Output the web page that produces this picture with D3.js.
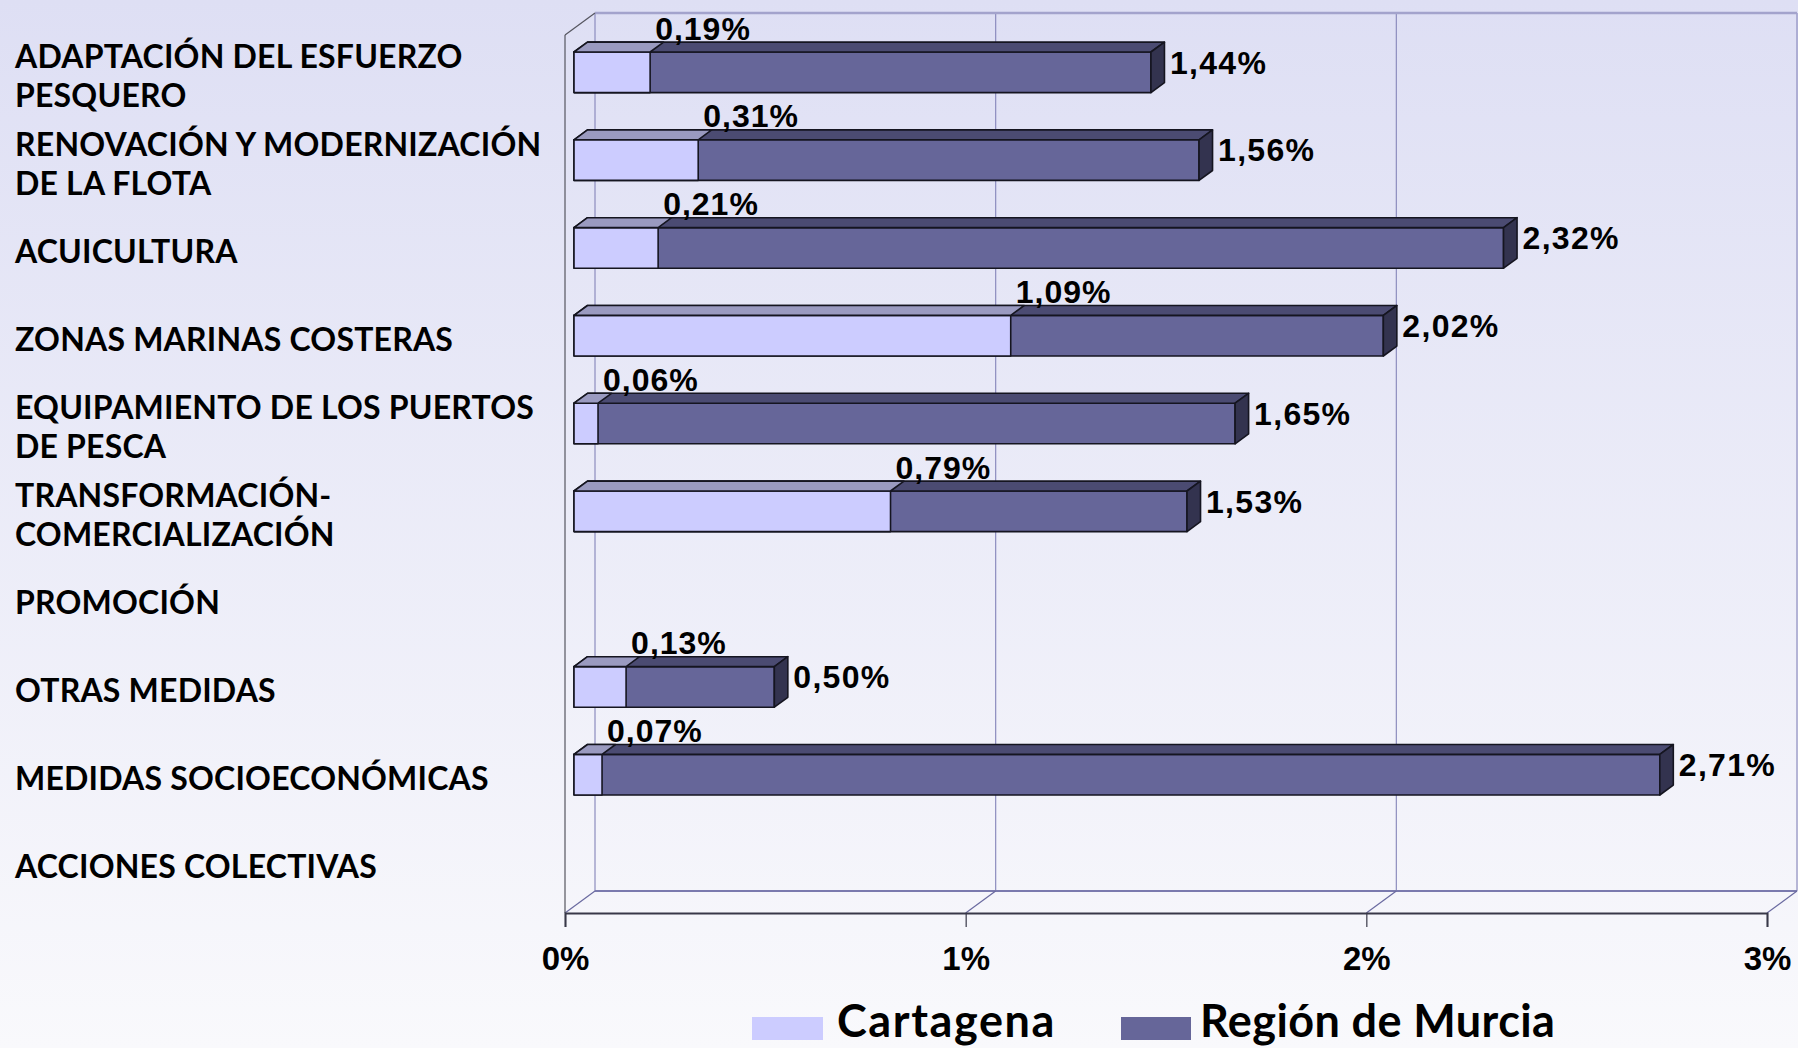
<!DOCTYPE html>
<html>
<head>
<meta charset="utf-8">
<script src="https://cdn.jsdelivr.net/npm/d3@7"></script>
<style>
  html, body { margin: 0; padding: 0; background: #f4f4fa; }
  svg { display: block; }
</style>
</head>
<body>
<svg id="chart" width="1798" height="1048"></svg>
<script>
// ---------- DATA ----------
const categories = [
  "ADAPTACIÓN DEL ESFUERZO PESQUERO",
  "RENOVACIÓN Y MODERNIZACIÓN DE LA FLOTA",
  "ACUICULTURA",
  "ZONAS MARINAS COSTERAS",
  "EQUIPAMIENTO DE LOS PUERTOS DE PESCA",
  "TRANSFORMACIÓN-COMERCIALIZACIÓN",
  "PROMOCIÓN",
  "OTRAS MEDIDAS",
  "MEDIDAS SOCIOECONÓMICAS",
  "ACCIONES COLECTIVAS"
];
const categoryLines = [
  ["ADAPTACIÓN DEL ESFUERZO", "PESQUERO"],
  ["RENOVACIÓN Y MODERNIZACIÓN", "DE LA FLOTA"],
  ["ACUICULTURA"],
  ["ZONAS MARINAS COSTERAS"],
  ["EQUIPAMIENTO DE LOS PUERTOS", "DE PESCA"],
  ["TRANSFORMACIÓN-", "COMERCIALIZACIÓN"],
  ["PROMOCIÓN"],
  ["OTRAS MEDIDAS"],
  ["MEDIDAS SOCIOECONÓMICAS"],
  ["ACCIONES COLECTIVAS"]
];
const cartagena = [0.19, 0.31, 0.21, 1.09, 0.06, 0.79, null, 0.13, 0.07, null];
const murcia    = [1.44, 1.56, 2.32, 2.02, 1.65, 1.53, null, 0.50, 2.71, null];
const seriesNames = ["Cartagena", "Región de Murcia"];
const tickValues = [0, 1, 2, 3];
const tickLabels = ["0%", "1%", "2%", "3%"];

// ---------- LAYOUT ----------
const W = 1798, H = 1048;
const svg = d3.select("#chart");
const catFont = "'Lato', 'DejaVu Sans', sans-serif";
const numFont = "'Liberation Sans', Arial, sans-serif";

const defs = svg.append("defs");
const grad = defs.append("linearGradient").attr("id", "bg").attr("x1", 0).attr("y1", 0).attr("x2", 0).attr("y2", 1);
grad.append("stop").attr("offset", "0%").attr("stop-color", "#dedff4");
grad.append("stop").attr("offset", "100%").attr("stop-color", "#f9f9fc");
svg.append("rect").attr("width", W).attr("height", H).attr("fill", "url(#bg)");

const plotTop = 35, plotBottom = 913;
const depthX = 30, depthY = -22;
const d0 = 0.3, d1 = 0.75;

const x = d3.scaleLinear().domain([0, 3]).range([565, 1767]);
const yBand = d3.scaleBand().domain(categories).range([plotTop, plotBottom])
  .paddingInner(0.5376).paddingOuter(0.2688);
const yCat = d3.scaleBand().domain(categories).range([plotTop, plotBottom]);

const P = (v, yy, d) => [x(v) + depthX * d, yy + depthY * d];
const pts = arr => arr.map(p => p.join(",")).join(" ");

// ---------- WALLS / GRID ----------
const grid = svg.append("g");
grid.selectAll("line.g").data(tickValues).join("line")
  .attr("x1", d => P(d, plotTop, 1)[0]).attr("y1", d => P(d, plotTop, 1)[1])
  .attr("x2", d => P(d, plotBottom, 1)[0]).attr("y2", d => P(d, plotBottom, 1)[1])
  .attr("stroke", "#8c8cbe").attr("stroke-width", 1.2);
grid.append("line")
  .attr("x1", P(0, plotTop, 1)[0]).attr("y1", P(0, plotTop, 1)[1])
  .attr("x2", P(3, plotTop, 1)[0]).attr("y2", P(3, plotTop, 1)[1])
  .attr("stroke", "#a3a3cc").attr("stroke-width", 2.5);
grid.append("line")
  .attr("x1", P(0, plotBottom, 1)[0]).attr("y1", P(0, plotBottom, 1)[1])
  .attr("x2", P(3, plotBottom, 1)[0]).attr("y2", P(3, plotBottom, 1)[1])
  .attr("stroke", "#7a7aae").attr("stroke-width", 2);
grid.selectAll("line.fd").data(tickValues).join("line")
  .attr("x1", d => P(d, plotBottom, 0)[0]).attr("y1", d => P(d, plotBottom, 0)[1])
  .attr("x2", d => P(d, plotBottom, 1)[0]).attr("y2", d => P(d, plotBottom, 1)[1])
  .attr("stroke", "#6a6aa0").attr("stroke-width", 1.2);
grid.append("line")
  .attr("x1", P(0, plotTop, 0)[0]).attr("y1", P(0, plotTop, 0)[1])
  .attr("x2", P(0, plotBottom, 0)[0]).attr("y2", P(0, plotBottom, 0)[1])
  .attr("stroke", "#55555f").attr("stroke-width", 1.2);
grid.append("line")
  .attr("x1", P(0, plotTop, 0)[0]).attr("y1", P(0, plotTop, 0)[1])
  .attr("x2", P(0, plotTop, 1)[0]).attr("y2", P(0, plotTop, 1)[1])
  .attr("stroke", "#55555f").attr("stroke-width", 1.2);

// ---------- AXIS ----------
const axis = d3.axisBottom(x).tickValues(tickValues)
  .tickFormat((d, i) => tickLabels[i]).tickSize(14).tickPadding(20);
const axG = svg.append("g").attr("transform", `translate(0,${plotBottom})`).call(axis);
axG.select(".domain").attr("stroke", "#383848").attr("stroke-width", 2);
axG.selectAll(".tick line").attr("stroke", "#383848").attr("stroke-width", 1.2);
axG.selectAll(".tick text").attr("font-family", numFont).attr("font-weight", "bold")
  .attr("font-size", 33).attr("fill", "#000");

// ---------- BARS ----------
const colors = {
  cart: { front: "#ccccff", top: "#9a9ac0", end: "#7d7da6" },
  mur:  { front: "#666699", top: "#4b4b72", end: "#33334f" }
};
const bars = svg.append("g");

function drawBox(g, v0, v1, yTop, h, c, withEnd) {
  const front = [P(v0, yTop, d0), P(v1, yTop, d0), P(v1, yTop + h, d0), P(v0, yTop + h, d0)];
  const top = [P(v0, yTop, d0), P(v1, yTop, d0), P(v1, yTop, d1), P(v0, yTop, d1)];
  const end = [P(v1, yTop, d0), P(v1, yTop, d1), P(v1, yTop + h, d1), P(v1, yTop + h, d0)];
  const add = (poly, fill) => g.append("polygon").attr("points", pts(poly)).attr("fill", fill)
    .attr("stroke", "#151520").attr("stroke-width", 1.6).attr("stroke-linejoin", "round");
  add(front, c.front);
  add(top, c.top);
  if (withEnd) add(end, c.end);
}

categories.forEach((cat, i) => {
  const m = murcia[i], c = cartagena[i];
  if (m == null) return;
  const yTop = yBand(cat), h = yBand.bandwidth();
  const g = bars.append("g");
  drawBox(g, 0, m, yTop, h, colors.mur, true);
  drawBox(g, 0, c, yTop, h, colors.cart, false);
  const fTop = P(0, yTop, d0)[1];
  g.append("text")
    .attr("x", P(c, yTop, d0)[0] + 5).attr("y", fTop - 12.5)
    .attr("font-family", numFont).attr("font-weight", "bold").attr("font-size", 32)
    .attr("letter-spacing", 1).attr("fill", "#000")
    .text(c.toFixed(2).replace(".", ",") + "%");
  g.append("text")
    .attr("x", P(m, yTop, d0)[0] + 19).attr("y", fTop + 21.5)
    .attr("font-family", numFont).attr("font-weight", "bold").attr("font-size", 32)
    .attr("letter-spacing", 1.3).attr("fill", "#000")
    .text(m.toFixed(2).replace(".", ",") + "%");
});

// ---------- CATEGORY LABELS ----------
const labG = svg.append("g");
categories.forEach((cat, i) => {
  const lines = categoryLines[i];
  const cy = yCat(cat) + yCat.bandwidth() / 2 - 3;
  const lh = 39;
  const t = labG.append("text")
    .attr("font-family", catFont).attr("font-weight", "bold").attr("font-size", 32)
    .attr("letter-spacing", 0.2).attr("fill", "#000");
  lines.forEach((ln, j) => {
    t.append("tspan").attr("x", 15)
      .attr("y", cy + (j - (lines.length - 1) / 2) * lh)
      .attr("dy", "0.36em").text(ln);
  });
});

// ---------- LEGEND ----------
const legend = svg.append("g");
const legItems = [
  { name: seriesNames[0], color: colors.cart.front, sx: 752, sw: 71, tx: 837, ls: 1.6 },
  { name: seriesNames[1], color: colors.mur.front, sx: 1121, sw: 70, tx: 1200, ls: 0.4 }
];
legItems.forEach(d => {
  legend.append("rect").attr("x", d.sx).attr("y", 1017).attr("width", d.sw).attr("height", 23)
    .attr("fill", d.color);
  legend.append("text").attr("x", d.tx).attr("y", 1037)
    .attr("font-family", catFont).attr("font-weight", "bold").attr("font-size", 45)
    .attr("letter-spacing", d.ls).attr("fill", "#000").text(d.name);
});
</script>
</body>
</html>
